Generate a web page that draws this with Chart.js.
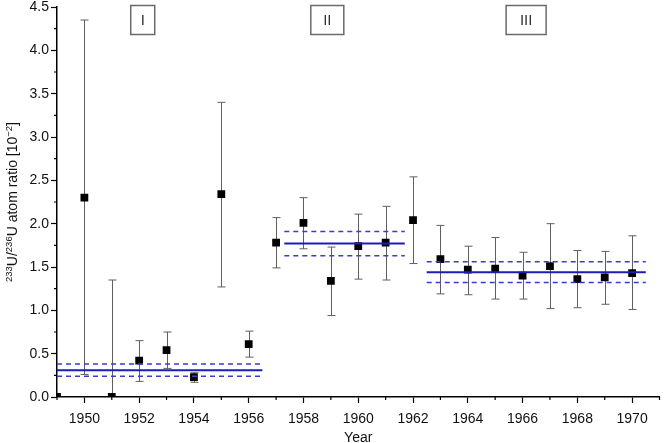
<!DOCTYPE html>
<html>
<head>
<meta charset="utf-8">
<script src="https://cdn.jsdelivr.net/npm/chart.js@4.4.1/dist/chart.umd.min.js"></script>
<style>
  html, body { margin: 0; padding: 0; background: #fff; }
</style>
</head>
<body>
<canvas id="chart" width="665" height="443"></canvas>
<script>
// measured values, 10^-2
const years = [1949, 1950, 1951, 1952, 1953, 1954, 1955, 1956, 1957, 1958, 1959,
               1960, 1961, 1962, 1963, 1964, 1965, 1966, 1967, 1968, 1969, 1970];
const ratio = [0.00, 2.30, 0.00, 0.42, 0.54, 0.23, 2.34, 0.61, 1.78, 2.01, 1.34,
               1.74, 1.78, 2.04, 1.59, 1.47, 1.48, 1.40, 1.51, 1.36, 1.38, 1.43];
const errLow = [0.00, 0.26, 0.00, 0.18, 0.33, 0.17, 1.27, 0.46, 1.49, 1.71, 0.94,
                1.36, 1.35, 1.54, 1.19, 1.18, 1.13, 1.13, 1.02, 1.03, 1.07, 1.01];
const errHigh = [0.00, 4.35, 1.35, 0.65, 0.75, 0.28, 3.40, 0.76, 2.07, 2.30, 1.73,
                 2.11, 2.20, 2.54, 1.98, 1.74, 1.84, 1.67, 2.00, 1.69, 1.68, 1.86];

// period means with uncertainty band
const periodNames = ["I", "II", "III"];
const periodStart = [1949, 1957.3, 1962.5];
const periodEnd = [1956.5, 1961.7, 1970.5];
const periodMean = [0.31, 1.77, 1.44];
const periodUpper = [0.38, 1.91, 1.56];
const periodLower = [0.24, 1.63, 1.32];

const yearTicks = [1950, 1952, 1954, 1956, 1958, 1960, 1962, 1964, 1966, 1968, 1970];
const ratioTicks = [0, 0.5, 1.0, 1.5, 2.0, 2.5, 3.0, 3.5, 4.0, 4.5];

const FONT = "'Liberation Sans', Arial, sans-serif";

const points = years.map((y, i) => ({ x: y, y: ratio[i] }));

const datasets = [];
periodNames.forEach((name, i) => {
    const seg = (v) => [{ x: periodStart[i], y: v }, { x: periodEnd[i], y: v }];
    datasets.push({ label: name + " upper", data: seg(periodUpper[i]), showLine: true,
        borderColor: "#3a3ad6", borderWidth: 1.5, borderDash: [5, 4], pointRadius: 0 });
    datasets.push({ label: name + " lower", data: seg(periodLower[i]), showLine: true,
        borderColor: "#3a3ad6", borderWidth: 1.5, borderDash: [5, 4], pointRadius: 0 });
    datasets.push({ label: name + " mean", data: seg(periodMean[i]), showLine: true,
        borderColor: "#1c1cb8", borderWidth: 2, pointRadius: 0 });
});
datasets.push({
    label: "233U/236U",
    data: points,
    pointStyle: "rect",
    pointRadius: 5.5,
    backgroundColor: "#000",
    borderColor: "#000",
    borderWidth: 0,
    clip: 0,
});

const errorBars = {
    id: "errorBars",
    beforeDatasetsDraw(chart) {
        const { ctx, scales: { x, y } } = chart;
        ctx.save();
        ctx.strokeStyle = "#5f5f5f";
        ctx.lineWidth = 1;
        years.forEach((yr, i) => {
            if (errHigh[i] === errLow[i]) return;
            const px = Math.round(x.getPixelForValue(yr)) + 0.5;
            const top = y.getPixelForValue(errHigh[i]);
            const bot = y.getPixelForValue(errLow[i]);
            ctx.beginPath();
            ctx.moveTo(px, top); ctx.lineTo(px, bot);
            ctx.moveTo(px - 4, top); ctx.lineTo(px + 4, top);
            if (errLow[i] > 0) { ctx.moveTo(px - 4, bot); ctx.lineTo(px + 4, bot); }
            ctx.stroke();
        });
        ctx.restore();
    }
};

const decorations = {
    id: "decorations",
    afterDraw(chart) {
        const { ctx, chartArea: a, scales: { x, y } } = chart;
        ctx.save();
        // minor ticks
        ctx.strokeStyle = "#000";
        ctx.lineWidth = 1.2;
        ctx.beginPath();
        for (let yr = 1949; yr <= 1971; yr++) {
            if (yearTicks.includes(yr)) continue;
            const px = x.getPixelForValue(yr);
            ctx.moveTo(px, a.bottom); ctx.lineTo(px, a.bottom + 3);
        }
        for (let v = 0.25; v < 4.5; v += 0.5) {
            const py = y.getPixelForValue(v);
            ctx.moveTo(a.left - 3, py); ctx.lineTo(a.left, py);
        }
        ctx.stroke();

        // period label boxes
        const centres = [1952.13, 1958.87, 1966.13];
        const widths = [24, 33, 40];
        ctx.font = "15px " + FONT;
        ctx.textAlign = "center";
        ctx.textBaseline = "middle";
        periodNames.forEach((name, i) => {
            const cx = x.getPixelForValue(centres[i]);
            ctx.fillStyle = "#fff";
            ctx.fillRect(cx - widths[i] / 2, 5.5, widths[i], 29);
            ctx.strokeStyle = "#6a6a6a";
            ctx.lineWidth = 1.5;
            ctx.strokeRect(cx - widths[i] / 2, 5.5, widths[i], 29);
            ctx.fillStyle = "#333";
            ctx.fillText(name, cx, 20.5);
        });

        // y axis title with superscripts
        const parts = [["233", true], ["U/", false], ["236", true], ["U atom ratio [10", false], ["\u22122", true], ["]", false]];
        const big = "14px " + FONT, small = "9.5px " + FONT;
        let total = 0;
        parts.forEach(([t, sup]) => { ctx.font = sup ? small : big; total += ctx.measureText(t).width; });
        ctx.translate(17, (a.top + a.bottom) / 2);
        ctx.rotate(-Math.PI / 2);
        ctx.fillStyle = "#111";
        ctx.textAlign = "left";
        ctx.textBaseline = "alphabetic";
        let cx = -total / 2;
        parts.forEach(([t, sup]) => {
            ctx.font = sup ? small : big;
            ctx.fillText(t, cx, sup ? -5 : 0);
            cx += ctx.measureText(t).width;
        });
        ctx.restore();
    }
};

new Chart(document.getElementById("chart"), {
    type: "scatter",
    data: { datasets },
    options: {
        responsive: false,
        animation: false,
        layout: { padding: { top: 7, right: 1, left: 0, bottom: 0 } },
        plugins: { legend: { display: false }, tooltip: { enabled: false } },
        scales: {
            x: {
                type: "linear",
                min: 1949,
                max: 1971,
                afterBuildTicks: (axis) => { axis.ticks = yearTicks.map(v => ({ value: v })); },
                afterFit: (axis) => { axis.height = 46; axis.paddingLeft = 0; axis.paddingRight = 0; },
                ticks: { color: "#111", font: { family: FONT, size: 14 }, padding: 8, maxRotation: 0,
                         callback: (v) => String(v) },
                grid: { drawOnChartArea: false, drawTicks: true, tickLength: 6, tickColor: "#000", tickWidth: 1.2 },
                border: { color: "#000", width: 1.5 },
                title: { display: true, text: "Year", color: "#111", font: { family: FONT, size: 14 },
                         padding: { top: 0, bottom: -4 } },
            },
            y: {
                min: 0,
                max: 4.5,
                afterBuildTicks: (axis) => { axis.ticks = ratioTicks.map(v => ({ value: v })); },
                afterFit: (axis) => { axis.width = 57; axis.paddingTop = 0; axis.paddingBottom = 0; },
                ticks: { color: "#111", font: { family: FONT, size: 14 }, padding: 2,
                         callback: (v) => v.toFixed(1) },
                grid: { drawOnChartArea: false, drawTicks: true, tickLength: 6, tickColor: "#000", tickWidth: 1.2 },
                border: { color: "#000", width: 1.5 },
            },
        },
    },
    plugins: [errorBars, decorations],
});
</script>
</body>
</html>
